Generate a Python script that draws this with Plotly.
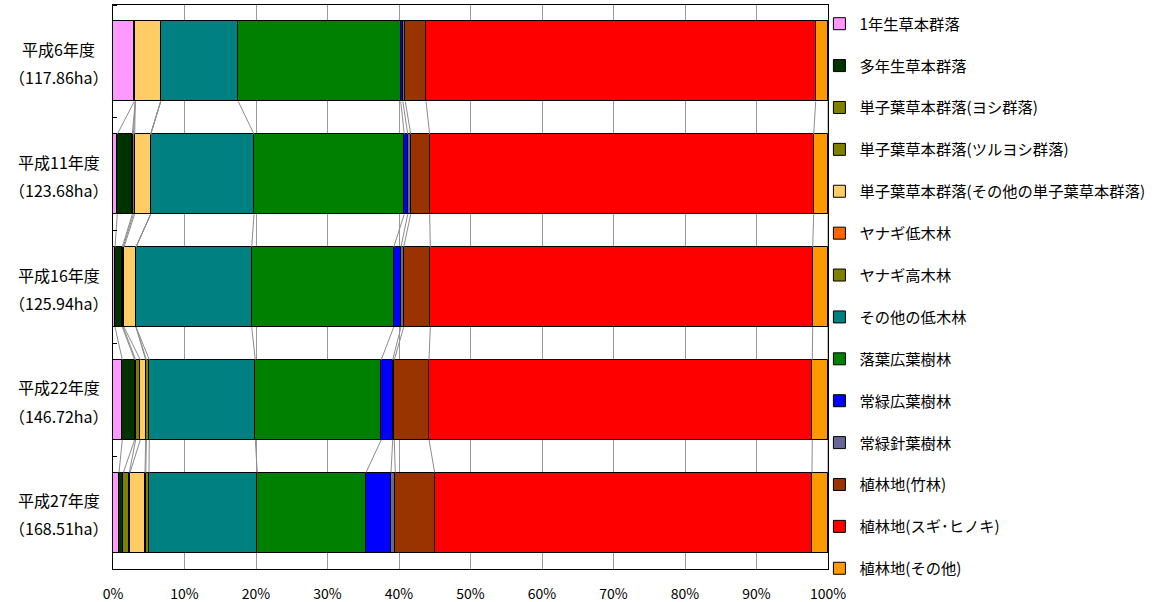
import plotly.graph_objects as go

# Survey years and total vegetation area
years = ["平成6年度", "平成11年度", "平成16年度", "平成22年度", "平成27年度"]
areas = ["（117.86ha）", "（123.68ha）", "（125.94ha）", "（146.72ha）", "（168.51ha）"]

# Vegetation categories (share of total area, %)
categories = [
    "1年生草本群落",
    "多年生草本群落",
    "単子葉草本群落(ヨシ群落)",
    "単子葉草本群落(ツルヨシ群落)",
    "単子葉草本群落(その他の単子葉草本群落)",
    "ヤナギ低木林",
    "ヤナギ高木林",
    "その他の低木林",
    "落葉広葉樹林",
    "常緑広葉樹林",
    "常緑針葉樹林",
    "植林地(竹林)",
    "植林地(スギ･ヒノキ)",
    "植林地(その他)",
]
colors = [
    "#FF99FF", "#003300", "#808000", "#808000", "#FFCC66", "#FF6600", "#808000",
    "#008080", "#008000", "#0000FF", "#666699", "#993300", "#FF0000", "#FF9900",
]

annual_herb   = [2.98, 0.60, 0.28, 1.30, 0.84]
perennial     = [0.14, 2.10, 1.02, 1.73, 0.60]
yoshi         = [0.00, 0.15, 0.12, 0.14, 0.84]
tsuruyoshi    = [0.00, 0.18, 0.12, 0.65, 0.10]
other_monocot = [3.55, 2.24, 1.68, 0.75, 2.10]
willow_low    = [0.00, 0.00, 0.00, 0.10, 0.10]
willow_high   = [0.00, 0.00, 0.00, 0.41, 0.45]
other_shrub   = [10.85, 14.45, 16.18, 14.82, 15.15]
deciduous     = [22.72, 21.02, 19.86, 17.62, 15.20]
evergreen_bl  = [0.30, 0.48, 1.02, 1.60, 3.50]
evergreen_con = [0.34, 0.42, 0.38, 0.22, 0.60]
bamboo        = [2.90, 2.65, 3.72, 4.86, 5.51]
cedar_cypress = [54.50, 53.71, 53.48, 53.60, 52.77]
plant_other   = [1.72, 2.00, 2.14, 2.20, 2.24]

series = [annual_herb, perennial, yoshi, tsuruyoshi, other_monocot, willow_low,
          willow_high, other_shrub, deciduous, evergreen_bl, evergreen_con,
          bamboo, cedar_cypress, plant_other]

x_ticks = list(range(0, 101, 10))
x_tick_labels = [f"{v}%" for v in x_ticks]

ypos = list(range(len(years)))
bar_w = 0.71
font_family = "Noto Sans CJK JP, Noto Sans, sans-serif"

fig = go.Figure()

for name, vals, col in zip(categories, series, colors):
    fig.add_trace(go.Bar(
        y=ypos, x=vals, orientation="h", name=name,
        marker=dict(color=col, line=dict(color="black", width=1)),
        width=bar_w, legendgroup=name,
    ))

# Series lines linking the end of each segment between neighbouring bars
cum = [0.0] * len(years)
for vals in series:
    cum = [c + v for c, v in zip(cum, vals)]
    xs, ys = [], []
    for k in range(len(years) - 1):
        xs += [cum[k], cum[k + 1], None]
        ys += [k + bar_w / 2, k + 1 - bar_w / 2, None]
    fig.add_trace(go.Scatter(
        x=xs, y=ys, mode="lines", line=dict(color="#8c8c8c", width=1),
        showlegend=False, hoverinfo="skip",
    ))

# Two-line category labels on the left
for k, (yr, ar) in enumerate(zip(years, areas)):
    fig.add_annotation(x=-0.076, xref="paper", y=k - 0.11, yref="y", text=yr,
                       showarrow=False, xanchor="center", yanchor="middle",
                       font=dict(family=font_family, size=16, color="black"))
    fig.add_annotation(x=-0.076, xref="paper", y=k + 0.14, yref="y", text=ar,
                       showarrow=False, xanchor="center", yanchor="middle",
                       font=dict(family=font_family, size=16, color="black"))

fig.update_layout(
    barmode="stack",
    width=1154, height=602,
    margin=dict(l=113, r=326, t=5, b=33, autoexpand=False),
    paper_bgcolor="white", plot_bgcolor="white",
    font=dict(family=font_family, size=14, color="black"),
    bargap=0,
    legend=dict(
        x=0.988, xanchor="left", y=0.996, yanchor="top",
        font=dict(family=font_family, size=15.3, color="black"),
        tracegroupgap=19, itemwidth=30, traceorder="grouped",
        bgcolor="rgba(0,0,0,0)", maxheight=600,
    ),
    xaxis=dict(
        range=[0, 100], tickvals=x_ticks, ticktext=x_tick_labels,
        showgrid=True, gridcolor="#9a9a9a", gridwidth=1,
        showline=True, linecolor="black", linewidth=1, mirror=True,
        ticks="", zeroline=False, ticklabelstandoff=12,
        tickfont=dict(family=font_family, size=14, color="black"),
    ),
    yaxis=dict(
        range=[len(years) - 0.5, -0.5], showticklabels=False,
        showgrid=False, zeroline=False,
        showline=True, linecolor="black", linewidth=1, mirror=True,
        ticks="",
        minor=dict(tickvals=[i - 0.5 for i in range(len(years) + 1)],
                   ticks="inside", ticklen=4, tickcolor="black", showgrid=False),
    ),
)

fig.write_html("out.html")
